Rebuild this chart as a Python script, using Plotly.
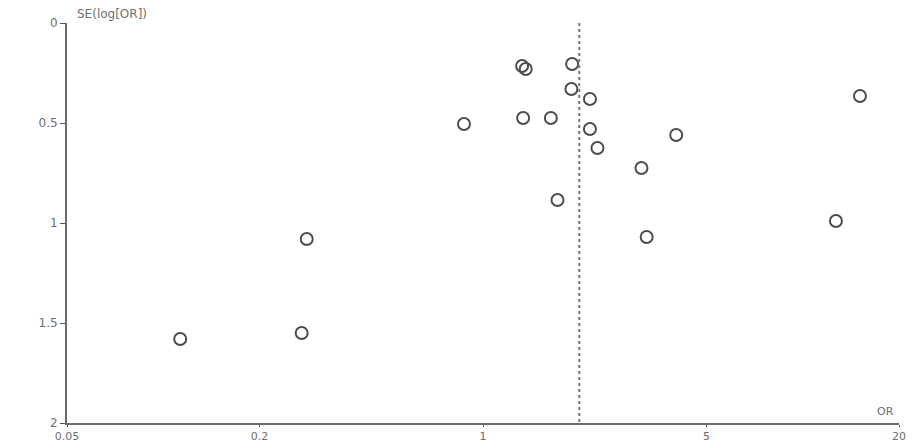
import plotly.graph_objects as go
import math

# Study data (odds ratio and standard error of log OR)
odds_ratios = [0.113, 0.271, 0.281, 0.872, 1.325, 1.36, 1.335, 1.63, 1.90, 1.89,
               2.16, 2.16, 2.28, 1.71, 3.13, 3.25, 4.02, 12.7, 15.1]
se_log_or = [1.58, 1.55, 1.08, 0.505, 0.215, 0.23, 0.475, 0.475, 0.205, 0.33,
             0.38, 0.53, 0.625, 0.885, 0.725, 1.07, 0.56, 0.99, 0.365]
pooled_or = 2.0
x_ticks = [0.05, 0.2, 1, 5, 20]
x_tick_labels = ["0.05", "0.2", "1", "5", "20"]
y_ticks = [0, 0.5, 1, 1.5, 2]
y_tick_labels = ["0", "0.5", "1", "1.5", "2"]

fig = go.Figure()
fig.add_trace(go.Scatter(
    x=odds_ratios, y=se_log_or, mode="markers",
    marker=dict(symbol="circle-open", size=12, color="#4d4d4d", line=dict(width=2)),
    showlegend=False, hoverinfo="x+y"))

fig.add_shape(type="line", xref="x", yref="y", x0=pooled_or, x1=pooled_or, y0=0, y1=2,
              line=dict(color="#70758f", width=2, dash="dot"))

axis_font = dict(family="DejaVu Sans", size=11, color="#6e6e6e")
fig.update_layout(
    width=912, height=436,
    margin=dict(l=59, r=21, t=15, b=21),
    paper_bgcolor="white", plot_bgcolor="white",
    xaxis=dict(type="log", range=[math.log10(0.05), math.log10(20)],
               tickvals=x_ticks, ticktext=x_tick_labels, showgrid=False, zeroline=False,
               showline=True, linecolor="#6a6a6a", linewidth=2, ticks="outside",
               ticklen=2, tickcolor="#555555", tickfont=axis_font, automargin=False),
    yaxis=dict(range=[2, 0], tickvals=y_ticks, ticktext=y_tick_labels, showgrid=False,
               zeroline=False, showline=True, linecolor="#6a6a6a", linewidth=2,
               ticks="outside", ticklen=5, tickcolor="#555555",
               tickfont=dict(family="DejaVu Sans", size=12, color="#6e6e6e"),
               automargin=False),
    annotations=[
        dict(text="SE(log[OR])", xref="paper", yref="paper", x=0.0, y=1.0,
             xshift=8, yshift=0, xanchor="left", yanchor="bottom", showarrow=False,
             font=dict(family="DejaVu Sans", size=12, color="#6e6e6e")),
        dict(text="OR", xref="paper", yref="paper", x=1.0, y=0.0,
             xshift=-14, yshift=3, xanchor="center", yanchor="bottom", showarrow=False,
             font=dict(family="DejaVu Sans", size=11, color="#6e6e6e")),
    ],
)

fig.write_html("out.html")
